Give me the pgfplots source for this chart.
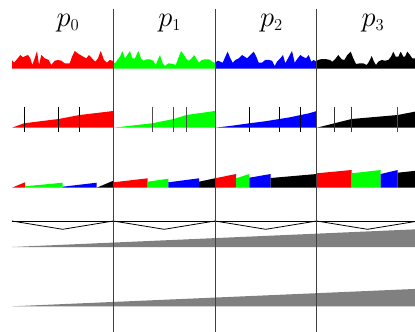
\documentclass[border=0pt]{standalone}
\usepackage{graphicx}
\usepackage{pgfplots}
\pgfplotsset{compat=1.18}
\newcommand{\ptitle}[1]{\scalebox{1.15}{\fontsize{24.88}{30}\selectfont $p_{\mbox{\fontsize{14.5}{15}\selectfont #1}}$}}
\begin{document}
\begin{tikzpicture}
\begin{axis}[scale only axis, width=415bp, height=332bp,
  xmin=0, xmax=415, ymin=0, ymax=332, y dir=reverse, hide axis, clip=true]
% ---------- row 1: noisy densities ----------
\addplot[fill=red, draw=none] coordinates {(12,68.5) (12,60) (14,62.7) (16.3,60) (20.3,55) (23,57.3) (25.3,56) (28,55) (30.3,58.3) (32.3,65) (34.7,58.3) (37,51) (39,65) (41.3,55) (44.7,58.3) (48.7,60) (51.3,65) (54.7,60.7) (58,60) (61.3,60.7) (64.7,63.3) (69.7,63.3) (72,56.7) (74.7,51) (78.7,54) (82,56) (86.3,58.3) (89,55) (92,58.3) (95.3,61.7) (98,58.3) (100.7,51) (104,60) (107,62.7) (109.7,60) (113.3,61) (113.3,68.5)};
\addplot[fill=green, draw=none] coordinates {(113.3,68.5) (113.3,61.7) (115,63.3) (117.3,60) (120,56.7) (122.3,51) (125,58.3) (127.3,55) (130,51) (132.3,58.3) (135,58.3) (138.3,51) (141,58.3) (143.3,60.7) (146.7,59.3) (150,59.3) (153.3,60.7) (155.7,65) (157.7,60) (160,55) (162.7,63.3) (165,66) (168.3,63.3) (173.3,64) (175.7,65) (178.3,58.3) (181,51) (184,55) (186.7,59.3) (189,60.7) (191.7,58.3) (194,55) (196.7,59.3) (199,62.7) (201.7,60) (205,59.3) (209,59.3) (212.3,61.7) (215,63) (215,68.5)};
\addplot[fill=blue, draw=none] coordinates {(215,68.5) (215,62.7) (218,60.7) (220.3,61.7) (222.7,62.7) (225.3,56.7) (227.7,51.7) (230.3,58.3) (232.7,62.7) (235.3,60) (238.7,58.3) (242,55) (244.7,56.7) (247,58.3) (250.3,55) (253.7,51.7) (256.3,56.7) (258.7,62.7) (262,62.7) (265.3,60) (268.7,60) (272,60.7) (274.7,66) (277,61.7) (280.3,58.3) (283,55) (285.3,63.3) (288,58.3) (292,51) (294.7,62.7) (297,59.3) (300.3,55) (302.7,56.7) (306,58.3) (308.7,55) (311.3,61.7) (313.7,60) (316.7,62) (316.7,68.5)};
\addplot[fill=black, draw=none] coordinates {(316.7,68.5) (316.7,60.7) (320,59.3) (325,59) (330,60) (332.3,61.7) (335,59.3) (338.3,55) (341.7,59.3) (344.3,60) (347.3,55) (350.7,51.7) (353.3,58.3) (356,64) (360,63.3) (363.3,63.3) (366.7,65) (369,61.7) (371.7,56) (374,61.7) (376,65) (378.3,61.7) (381.7,60) (385,60.7) (388.3,60) (391,56.7) (393.3,51.7) (395.7,56.7) (398.3,56.7) (400.7,51.7) (403.3,56.7) (405,56.7) (407.3,51.7) (410,55) (412.3,58.3) (415,58.3) (418,58) (418,68.5)};
% ---------- row 2: cumulative ----------
\addplot[fill=red, draw=none] coordinates {(12,127.7) (24,123.3) (58.5,119) (79.7,115) (113.3,111) (113.3,127.7)};
\addplot[fill=green, draw=none] coordinates {(113.3,127.7) (152,123.3) (173.7,119) (186.3,115) (215,111) (215,127.7)};
\addplot[fill=blue, draw=none] coordinates {(215,127.7) (232,125.7) (249.3,123.3) (265,121.3) (279.3,119) (290,117.3) (300.7,115) (309,113.3) (316.7,111) (316.7,127.7)};
\addplot[fill=black, draw=none] coordinates {(316.7,127.7) (334.3,123.3) (351.7,119) (397.7,115) (418.3,111) (418.3,127.7)};
\addplot[black, line width=0.9bp] coordinates {(24,106.7) (24,131.7)};
\addplot[black, line width=0.9bp] coordinates {(58.5,106.7) (58.5,131.7)};
\addplot[black, line width=0.9bp] coordinates {(79.7,106.7) (79.7,131.7)};
\addplot[black!70, line width=0.9bp] coordinates {(152,106.7) (152,131.7)};
\addplot[black!70, line width=0.9bp] coordinates {(173.7,106.7) (173.7,131.7)};
\addplot[black!70, line width=0.9bp] coordinates {(186.3,106.7) (186.3,131.7)};
\addplot[black, line width=0.9bp] coordinates {(249.3,106.7) (249.3,131.7)};
\addplot[black, line width=0.9bp] coordinates {(279.3,106.7) (279.3,131.7)};
\addplot[black, line width=0.9bp] coordinates {(300.7,106.7) (300.7,131.7)};
\addplot[black!80, line width=0.9bp] coordinates {(334.3,106.7) (334.3,131.7)};
\addplot[black!80, line width=0.9bp] coordinates {(351.7,106.7) (351.7,131.7)};
\addplot[black!70, line width=0.9bp] coordinates {(397.7,106.7) (397.7,131.7)};
% ---------- row 3: segments ----------
\addplot[fill=red, draw=none] coordinates {(12,187.7) (25,182.3) (25,187.7)};
\addplot[fill=green, draw=none] coordinates {(25,187.7) (25,186.3) (62.7,182.7) (62.7,187.7)};
\addplot[fill=blue, draw=none] coordinates {(62.7,187.7) (62.7,186.7) (96.7,182.7) (96.7,187.7)};
\addplot[fill=black, draw=none] coordinates {(96.7,187.7) (113.3,180.7) (113.3,187.7)};
\addplot[fill=red, draw=none] coordinates {(113.3,187.7) (113.3,182.3) (147.7,178.3) (147.7,187.7)};
\addplot[fill=green, draw=none] coordinates {(147.7,187.7) (147.7,181.7) (168.3,178.7) (168.3,187.7)};
\addplot[fill=blue, draw=none] coordinates {(168.3,187.7) (168.3,182.3) (199,178.3) (199,187.7)};
\addplot[fill=black, draw=none] coordinates {(199,187.7) (199,181.7) (215,178.3) (215,187.7)};
\addplot[fill=red, draw=none] coordinates {(215,187.7) (215,178.3) (236,174) (236,187.7)};
\addplot[fill=green, draw=none] coordinates {(236,187.7) (236,178.3) (249.3,174) (249.3,187.7)};
\addplot[fill=blue, draw=none] coordinates {(249.3,187.7) (249.3,177.7) (270.7,174) (270.7,187.7)};
\addplot[fill=black, draw=none] coordinates {(270.7,187.7) (270.7,178) (316.7,174) (316.7,187.7)};
\addplot[fill=red, draw=none] coordinates {(316.7,187.7) (316.7,173.3) (351.7,170) (351.7,187.7)};
\addplot[fill=green, draw=none] coordinates {(351.7,187.7) (351.7,173.3) (380.7,170) (380.7,187.7)};
\addplot[fill=blue, draw=none] coordinates {(380.7,187.7) (380.7,174) (397.7,170) (397.7,187.7)};
\addplot[fill=black, draw=none] coordinates {(397.7,187.7) (397.7,172.7) (418.3,170.5) (418.3,187.7)};
% ---------- row 4: zigzag ----------
\addplot[black, line width=0.8bp] coordinates {(12,221) (418.3,221)};
\addplot[black, line width=0.8bp] coordinates {(12,221) (62.7,229.3) (113.3,221) (164.2,229.3) (215,221) (265.8,229.3) (316.7,221) (367.5,229.3) (418.3,221)};
% ---------- rows 5, 6: wedges ----------
\addplot[fill=gray, draw=none] coordinates {(12,247) (418.3,229.2) (418.3,247)};
\addplot[fill=gray, draw=none] coordinates {(12,306.3) (418.3,288.8) (418.3,306.3)};
% ---------- dividers ----------
\addplot[black!75, line width=1bp] coordinates {(113.3,9) (113.3,332)};
\addplot[black!75, line width=1bp] coordinates {(215,9) (215,332)};
\addplot[black!75, line width=1bp] coordinates {(316.7,9) (316.7,332)};
% ---------- titles ----------
\node[anchor=base west, inner sep=0pt] at (axis cs:56.5,26.7) {\ptitle{0}};
\node[anchor=base west, inner sep=0pt] at (axis cs:158.2,26.7) {\ptitle{1}};
\node[anchor=base west, inner sep=0pt] at (axis cs:259.8,26.7) {\ptitle{2}};
\node[anchor=base west, inner sep=0pt] at (axis cs:361.5,26.7) {\ptitle{3}};
\end{axis}
\path (current axis.south west) rectangle (current axis.north east);
\end{tikzpicture}
\end{document}
